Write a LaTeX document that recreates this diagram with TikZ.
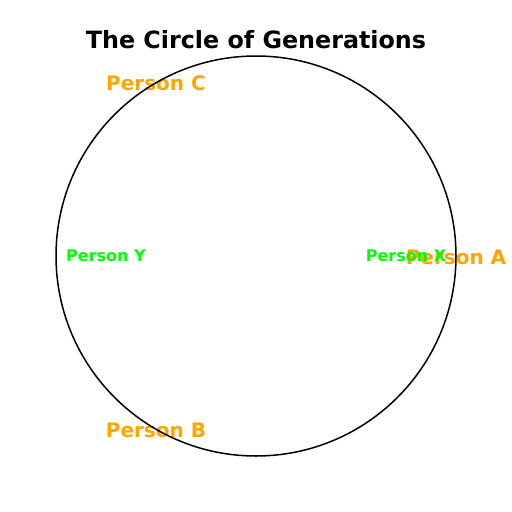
\documentclass[tikz,border=0pt]{standalone}
\usepackage{fontspec}
\setmainfont{DejaVu Sans}
\usepackage{tikz}
\definecolor{gold}{RGB}{255,165,0}
\definecolor{lime}{RGB}{0,255,0}

\begin{document}
\begin{tikzpicture}[x=1pt,y=-1pt]
  % picture frame, in pixels
  \useasboundingbox (0,0) rectangle (512,512);

  % circle center and radius
  \def\R{200}
  \def\cx{256}
  \def\cy{256}

  \tikzset{
    outer/.style={text=gold, font=\bfseries\fontsize{20}{24}\selectfont},
    inner/.style={text=lime, font=\bfseries\fontsize{16}{19}\selectfont}
  }

  % Title
  \node[font=\bfseries\fontsize{23.8}{28}\selectfont] (title) at (\cx,40) {The Circle of Generations};

  % Labels outside (orange)
  \node[outer] (pa) at (456,257) {Person A};
  \node[outer] (pb) at (156,430) {Person B};
  \node[outer] (pc) at (156,83) {Person C};

  % Labels inside (green)
  \node[inner] (px) at (406,256) {Person X};
  \node[inner] (py) at (106,256) {Person Y};

  % the circle
  \draw[line width=1.5pt] (\cx,\cy) circle (\R);

\end{tikzpicture}
\end{document}
